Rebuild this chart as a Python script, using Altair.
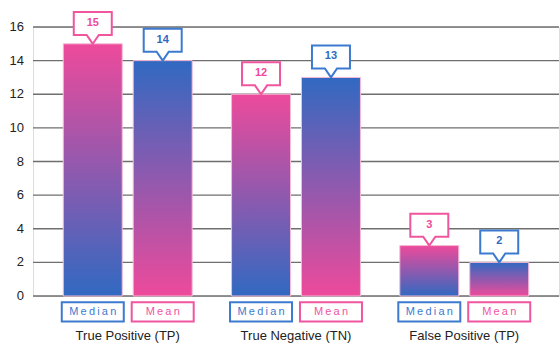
import altair as alt
import pandas as pd

# Source values
categories = ["True Positive (TP)", "True Negative (TN)", "False Positive (TP)"]
series = ["Median", "Mean"]
median_values = [15, 12, 3]
mean_values = [14, 13, 2]
y_ticks = [0, 2, 4, 6, 8, 10, 12, 14, 16]

PINK = "#EE4A9B"
BLUE = "#3169C1"
PINK_LINE = "#F0559F"
BLUE_LINE = "#3C7AD0"
FONT = "Liberation Sans"
SP = "\u2009"
W, H = 526, 269

rows = []
for cat, med, mn in zip(categories, median_values, mean_values):
    rows.append({"category": cat, "series": "Median", "value": med,
                 "tag": SP.join("Median")})
    rows.append({"category": cat, "series": "Mean", "value": mn,
                 "tag": SP.join("Mean")})
df = pd.DataFrame(rows)
ticks_df = pd.DataFrame({"tick": y_ticks})

y_scale = alt.Scale(domain=[0, 16], nice=False)
y_enc = alt.Y("value:Q", scale=y_scale, axis=None)
y_zero = alt.Y(datum=0, scale=y_scale, axis=None)

x_enc = alt.X("category:N", sort=categories,
              scale=alt.Scale(paddingInner=0.234, paddingOuter=0.18),
              axis=alt.Axis(title=None, labelAngle=0, domain=False, ticks=False,
                            grid=False, labelPadding=33, labelFontSize=13,
                            labelColor="#222", labelFont=FONT))
xo_enc = alt.XOffset("series:N", sort=series,
                     scale=alt.Scale(paddingInner=0.157, paddingOuter=0))

# Horizontal grid and value labels along the left edge
tick_base = alt.Chart(ticks_df).encode(
    y=alt.Y("tick:Q", scale=y_scale, axis=None))
grid = tick_base.mark_rule(color="#6e6e6e", strokeWidth=1.3).encode(
    x=alt.value(0), x2=alt.value(W))
tick_labels = tick_base.mark_text(align="right", baseline="middle",
                                  fontSize=13, font=FONT, color="#222").encode(
    x=alt.value(-9), text=alt.Text("tick:Q"))

base = alt.Chart(df).encode(x=x_enc, xOffset=xo_enc)


def gradient(top, bottom):
    return alt.Gradient(gradient="linear", x1=0, y1=0, x2=0, y2=1,
                        stops=[alt.GradientStop(color=top, offset=0),
                               alt.GradientStop(color=bottom, offset=1)])


median_bars = base.transform_filter(alt.datum.series == "Median").mark_bar(
    fill=gradient(PINK, BLUE), stroke="#f6b9d6", strokeWidth=1
).encode(y=y_enc)

mean_bars = base.transform_filter(alt.datum.series == "Mean").mark_bar(
    fill=gradient(BLUE, PINK), stroke="#f6b9d6", strokeWidth=1
).encode(y=y_enc)

# Speech-bubble callouts holding the values, tip at the bar top
bubble = ("M0,0 L-0.32,-0.47 L-1,-0.47 L-1,-1.68 L1,-1.68 L1,-0.47 "
          "L0.32,-0.47 Z")
callout_color = alt.Color("series:N", scale=alt.Scale(domain=series,
                                                      range=[PINK_LINE, BLUE_LINE]),
                          legend=None)
callouts = base.mark_point(shape=bubble, size=1444, filled=True, fill="white",
                           strokeWidth=2, opacity=1).encode(
    y=y_enc, stroke=callout_color)

callout_text = base.mark_text(dy=-21, fontSize=11, fontWeight="bold",
                              font=FONT, baseline="middle").encode(
    y=y_enc, text=alt.Text("value:Q"),
    color=alt.Color("series:N", scale=alt.Scale(domain=series,
                                                range=[PINK, BLUE]),
                    legend=None))

# Series tags under each bar
tag_color = alt.Color("series:N", scale=alt.Scale(domain=series,
                                                  range=[BLUE_LINE, PINK_LINE]),
                      legend=None)
tag_box = "M-1,0.2 L1,0.2 L1,0.82 L-1,0.82 Z"
tags = base.mark_point(shape=tag_box, size=3844, filled=True, fill="white",
                       strokeWidth=2, opacity=1).encode(
    y=y_zero, stroke=tag_color)
tag_text = base.mark_text(dy=16, fontSize=11, font=FONT,
                          baseline="middle").encode(
    y=y_zero, text="tag:N", color=tag_color)

chart = alt.layer(grid, tick_labels, median_bars, mean_bars, callouts,
                  callout_text, tags, tag_text).resolve_scale(
    color="independent", stroke="independent").properties(
    width=W, height=H,
    autosize=alt.AutoSizeParams(type="none"),
    padding={"left": 33, "top": 27, "right": 1, "bottom": 51},
).configure_view(stroke=None).configure(background="white")

chart.save("out.html", embed_options={"renderer": "svg", "actions": False})
